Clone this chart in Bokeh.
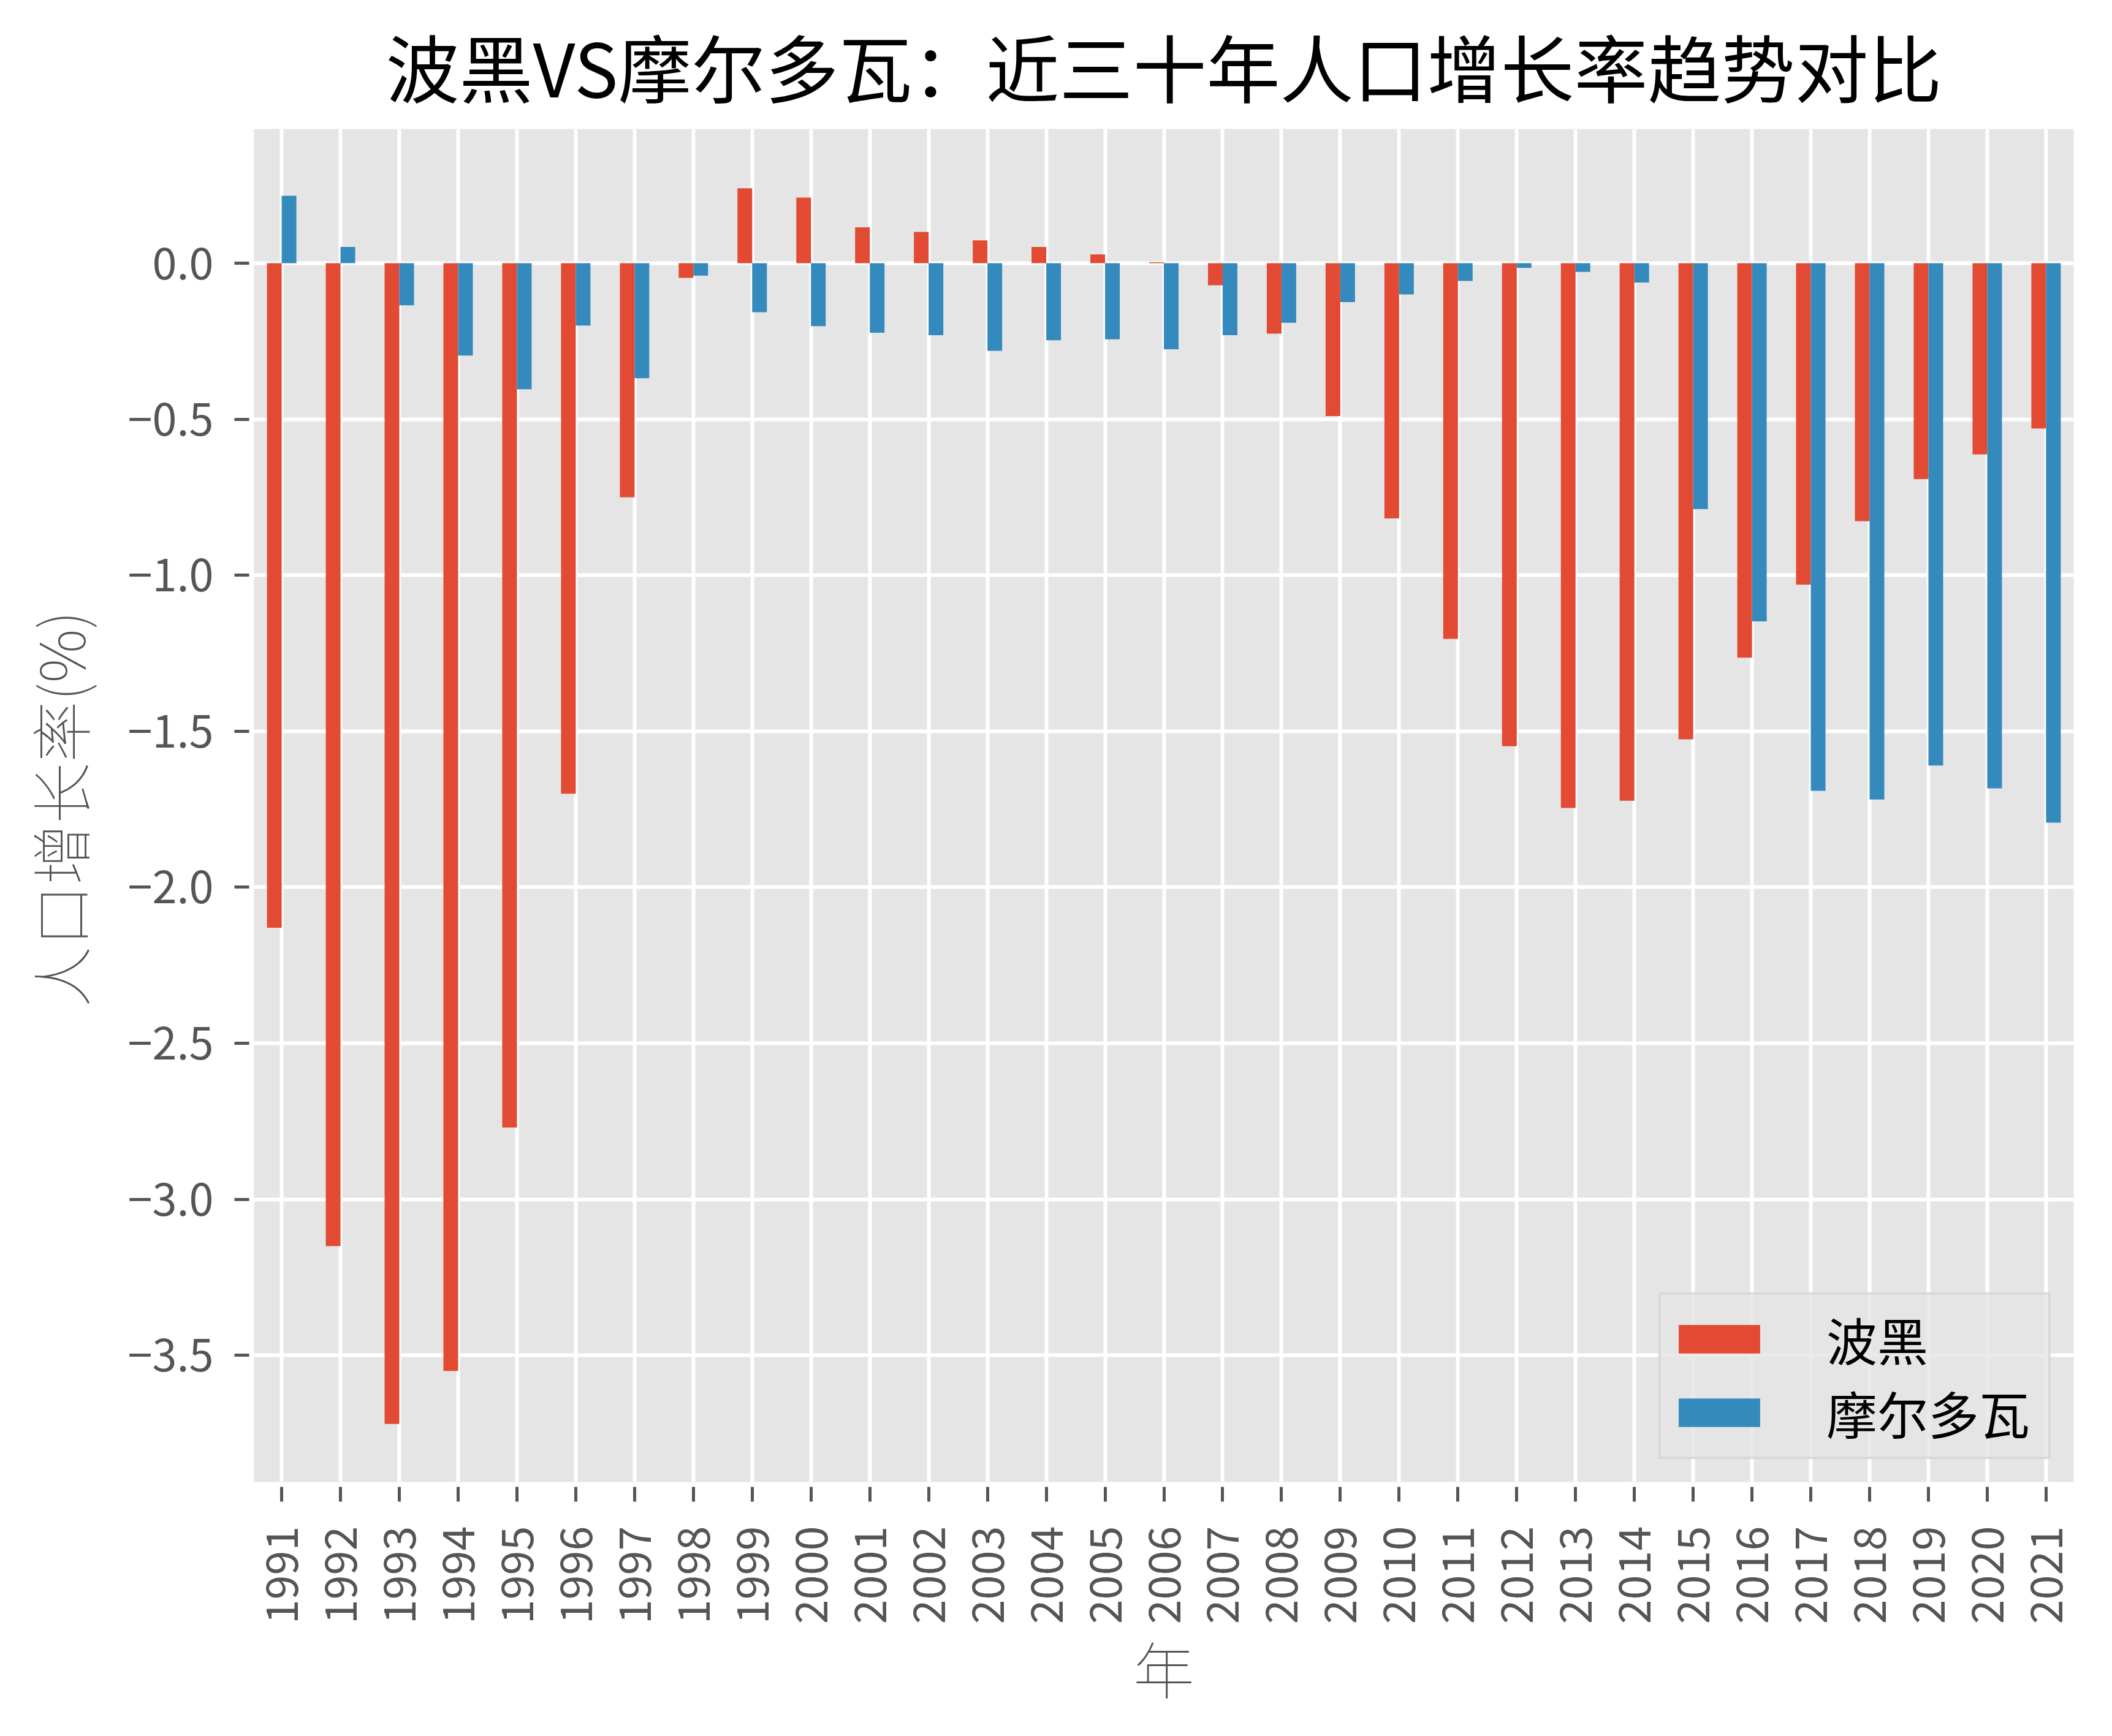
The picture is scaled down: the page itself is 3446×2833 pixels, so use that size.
import math
from bokeh.plotting import figure
from bokeh.models import (Range1d, FixedTicker, CustomJSTickFormatter, Legend,
                          LegendItem, ColumnDataSource)
from bokeh.transform import dodge
from bokeh.embed import file_html
from bokeh.resources import INLINE

years = ["1991", "1992", "1993", "1994", "1995", "1996", "1997", "1998", "1999", "2000",
         "2001", "2002", "2003", "2004", "2005", "2006", "2007", "2008", "2009", "2010",
         "2011", "2012", "2013", "2014", "2015", "2016", "2017", "2018", "2019", "2020",
         "2021"]

# 波黑 population growth (%)
bih = [-2.13, -3.15, -3.72, -3.55, -2.77, -1.70, -0.75, -0.047, 0.24, 0.21,
       0.115, 0.10, 0.073, 0.052, 0.028, 0.003, -0.071, -0.226, -0.49, -0.818,
       -1.204, -1.548, -1.746, -1.723, -1.526, -1.264, -1.030, -0.827, -0.692, -0.613,
       -0.530]

# 摩尔多瓦 population growth (%)
mda = [0.216, 0.052, -0.135, -0.296, -0.404, -0.200, -0.369, -0.040, -0.157, -0.202,
       -0.223, -0.231, -0.281, -0.247, -0.244, -0.276, -0.231, -0.191, -0.125, -0.100,
       -0.057, -0.015, -0.028, -0.062, -0.788, -1.148, -1.691, -1.719, -1.610, -1.683,
       -1.793]

y_ticks = [-3.5, -3.0, -2.5, -2.0, -1.5, -1.0, -0.5, 0.0]

series_names = ["波黑", "摩尔多瓦"]
title_text = "波黑VS摩尔多瓦：近三十年人口增长率趋势对比"
x_label = "年"
y_label = "人口增长率(%)"

CJK = "Noto Sans CJK SC"
RED = "#E24A33"
BLUE = "#348ABD"
GREY_TXT = "#555555"

idx = list(range(len(years)))
src = ColumnDataSource(dict(x=idx, year=years, bih=bih, mda=mda))

p = figure(width=3430, height=2817, output_backend="svg", toolbar_location=None,
           x_range=Range1d(-0.47, 30.47), y_range=Range1d(-3.906, 0.43),
           min_border_left=414, min_border_right=47, min_border_top=210,
           min_border_bottom=399)

p.background_fill_color = "#E5E5E5"
p.border_fill_color = "white"
p.outline_line_color = None

r1 = p.vbar(x=dodge('x', -0.125), top='bih', bottom=0, width=0.25, source=src,
            fill_color=RED, line_color=None)
r2 = p.vbar(x=dodge('x', 0.125), top='mda', bottom=0, width=0.25, source=src,
            fill_color=BLUE, line_color=None)

# title
p.title.text = title_text
p.title.align = "center"
p.title.text_font = CJK
p.title.text_font_size = "120px"
p.title.text_font_style = "normal"
p.title.text_color = "black"
p.title.standoff = 33

# axes
p.xaxis.ticker = FixedTicker(ticks=idx)
p.xaxis.major_label_overrides = {i: y for i, y in zip(idx, years)}
p.xaxis.major_label_orientation = math.pi / 2
p.yaxis.ticker = FixedTicker(ticks=y_ticks)
p.yaxis.formatter = CustomJSTickFormatter(
    code="return (tick < 0 ? '\\u2212' : '') + Math.abs(tick).toFixed(1);")

for ax in (p.xaxis[0], p.yaxis[0]):
    ax.axis_line_color = None
    ax.major_tick_line_color = GREY_TXT
    ax.major_tick_line_width = 5
    ax.major_tick_in = -8
    ax.major_tick_out = 32
    ax.minor_tick_line_color = None
    ax.major_label_text_font = CJK
    ax.major_label_text_font_size = "72px"
    ax.major_label_text_color = GREY_TXT
    ax.axis_label_text_font = CJK
    ax.axis_label_text_font_size = "100px"
    ax.axis_label_text_font_style = "normal"
    ax.axis_label_text_color = GREY_TXT

p.xaxis.major_label_standoff = 40
p.yaxis.major_label_standoff = 34
p.xaxis.axis_label = x_label
p.yaxis.axis_label = y_label
p.xaxis.axis_label_standoff = -5
p.yaxis.axis_label_standoff = 38

p.grid.grid_line_color = "white"
p.grid.grid_line_width = 6

legend = Legend(items=[LegendItem(label=series_names[0], renderers=[r1]),
                       LegendItem(label=series_names[1], renderers=[r2])],
                location="bottom_right")
legend.glyph_width = 166
legend.glyph_height = 58
legend.label_text_font = CJK
legend.label_text_font_size = "83px"
legend.label_text_color = "black"
legend.label_standoff = 92
legend.label_width = 350
legend.padding = 12
legend.margin = 37
legend.spacing = 0
legend.background_fill_color = "#E5E5E5"
legend.background_fill_alpha = 0.8
legend.border_line_color = "#CCCCCC"
legend.border_line_width = 4
p.add_layout(legend)

open("out.html", "w").write(file_html(p, INLINE))
